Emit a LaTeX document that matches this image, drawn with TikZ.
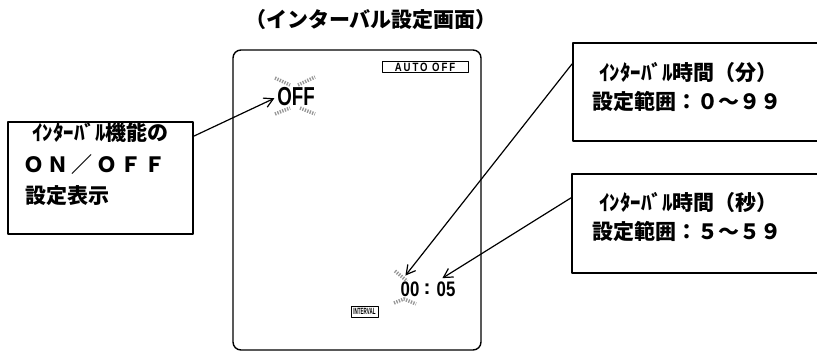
\documentclass[tikz,border=0pt]{standalone}
\usepackage{fontspec}
\usepackage{graphicx}
\usepackage{tikz}
\usetikzlibrary{arrows.meta}
\newfontfamily\jpfont{Noto Sans CJK JP}
\newfontfamily\segfont{Liberation Sans}
\definecolor{pen}{RGB}{0,0,0}
\definecolor{blink}{RGB}{150,150,150}
\newcommand\narrow[2]{\scalebox{#1}[1]{#2}}
\def\jpbig{\jpfont\bfseries\fontsize{21}{21}\selectfont}

\begin{document}
\begin{tikzpicture}[x=1pt, y=-1pt, line cap=round, line join=round,
    frame/.style={draw=pen, line width=1.6pt, inner sep=0pt, anchor=north west},
    textline/.style={anchor=base west, inner sep=0pt, font=\jpbig},
    pointer/.style={pen, line width=1.2pt, -{Straight Barb[length=9pt, width=10pt]}},
    blinkmark/.style={blink, line width=3.5pt, line cap=butt, dash pattern=on 1.3pt off 1.3pt},
    seg/.style={pen, inner sep=0pt}]

  %========= page =========
  \useasboundingbox (0,0) rectangle (817,352);
  \clip (0,0) rectangle (817,352);

  %========= title =========
  \node[font=\jpbig] (title) at (371,20) {（インターバル設定画面）};

  %========= screen =========
  \draw[pen, line width=1.4pt, rounded corners=8pt] (233,50) rectangle (481,350);
  \node[seg, draw=pen, line width=1pt, minimum width=86pt, minimum height=11pt,
        font=\segfont\bfseries\fontsize{12}{12}\selectfont] (autooff) at (425,67.5)
        {\narrow{0.8}{\addfontfeature{LetterSpace=20}AUTO OFF}};
  \node[seg, font=\segfont\bfseries\fontsize{26}{26}\selectfont] (off) at (296,97) {\narrow{0.72}{OFF}};
  \node[seg, font=\segfont\bfseries\fontsize{21}{21}\selectfont] (clkmin) at (410,289.5) {\narrow{0.8}{00}};
  \node[seg, font=\segfont\bfseries\fontsize{21}{21}\selectfont] (clkcolon) at (427,289.5) {:};
  \node[seg, font=\segfont\bfseries\fontsize{21}{21}\selectfont] (clksec) at (446,289.5) {\narrow{0.8}{05}};
  \node[seg, draw=pen, line width=0.9pt, minimum width=27pt, minimum height=11pt,
        font=\segfont\bfseries\fontsize{9}{9}\selectfont] (intv) at (364.5,311.5) {\narrow{0.5}{INTERVAL}};

  % blinking marks
  \draw[blinkmark] (275,78) -- (290,85);
  \draw[blinkmark] (298,85) -- (315,77);
  \draw[blinkmark] (275,114) -- (290,108);
  \draw[blinkmark] (300,108) -- (315,114);
  \draw[blinkmark] (395,271) -- (407,281);
  \draw[blinkmark] (394,303) -- (404,299) -- (416,304);

  %========= callouts =========
  \node[frame, minimum width=185pt, minimum height=112pt] (onoffbox) at (7,121) {};
  \node[textline] (onoffa) at (32,141) {ｲﾝﾀｰﾊﾞﾙ機能の};
  \node[textline] (onoffb) at (23,172.5) {\addfontfeature{LetterSpace=16}ＯＮ／ＯＦＦ};
  \node[textline] (onoffc) at (25,204) {設定表示};

  \node[frame, minimum width=260pt, minimum height=98pt] (minbox) at (572,42) {};
  \node[textline] (mina) at (599,81) {ｲﾝﾀｰﾊﾞﾙ時間（分）};
  \node[textline] (minb) at (592,110) {設定範囲：０～９９};

  \node[frame, minimum width=260pt, minimum height=99pt] (secbox) at (571,173) {};
  \node[textline] (seca) at (599,211) {ｲﾝﾀｰﾊﾞﾙ時間（秒）};
  \node[textline] (secb) at (592,240) {設定範囲：５～５９};

  %========= pointers =========
  \draw[pointer, shorten >=3pt] (onoffbox.24) -- (off.west);
  \draw[pointer, shorten >=8pt] (minbox.168) -- (clkmin.north west);
  \draw[pointer, shorten >=7pt] (secbox.169) -- (clksec.north west);
\end{tikzpicture}
\end{document}
